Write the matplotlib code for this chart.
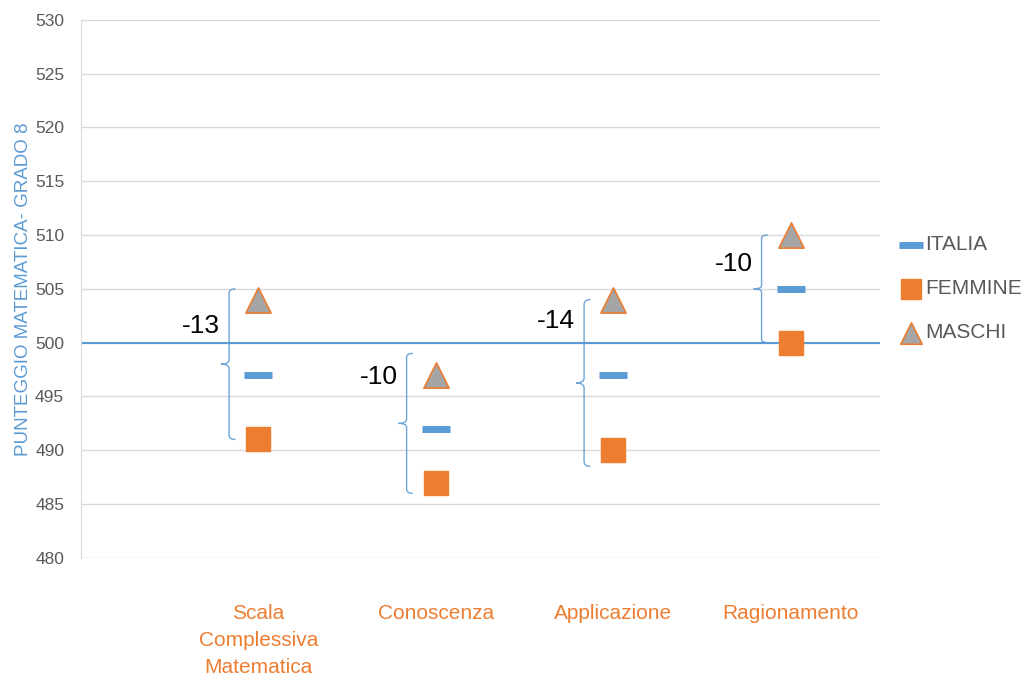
import matplotlib
matplotlib.use("Agg")
import matplotlib.pyplot as plt
from matplotlib.path import Path
from matplotlib.patches import PathPatch

plt.rcParams['font.family'] = ['Liberation Sans', 'DejaVu Sans']

# data
categories = ['Scala\nComplessiva\nMatematica', 'Conoscenza', 'Applicazione', 'Ragionamento']
italia = [497, 492, 497, 505]
femmine = [491, 487, 490, 500]
maschi = [504, 497, 504, 510]
gaps = ['-13', '-10', '-14', '-10']
# brace extents (top, bottom) and label heights
brace_top = [505, 499, 504, 510]
brace_bot = [491, 486, 488.5, 500]
label_y = [501.5, 496.8, 502, 507.3]

blue = '#5b9bd5'
orange = '#ed7d31'
grey = '#a5a5a5'
txt = '#595959'


def brace(ax, x, y0, y1, depth=0.045, hook=0.035):
    # curly brace opening to the right, tip pointing left at the middle
    ym = (y0 + y1) / 2
    h = (y1 - y0)
    c = h * 0.03
    verts = [(x + hook, y1), (x, y1), (x, y1 - c),
             (x, ym + c), (x, ym), (x - depth, ym),
             (x, ym), (x, ym - c),
             (x, y0 + c), (x, y0), (x + hook, y0)]
    codes = [Path.MOVETO, Path.CURVE3, Path.CURVE3,
             Path.LINETO, Path.CURVE3, Path.CURVE3,
             Path.CURVE3, Path.CURVE3,
             Path.LINETO, Path.CURVE3, Path.CURVE3]
    ax.add_patch(PathPatch(Path(verts, codes), fill=False, edgecolor=blue,
                           lw=1.0, alpha=0.9, zorder=3))


fig = plt.figure(figsize=(10.24, 6.82), dpi=100)
ax = fig.add_axes([0.079, 0.182, 0.78, 0.789])

pos = [1, 2, 3, 4]
ax.axhline(500, color=blue, lw=1.5, zorder=2)
ax.scatter(pos, italia, marker='_', s=420, linewidths=5, color=blue, zorder=4, label='ITALIA')
ax.scatter(pos, femmine, marker='s', s=300, color=orange, zorder=4, label='FEMMINE')
ax.scatter(pos, maschi, marker='^', s=330, color=grey, edgecolors=orange, linewidths=1.2,
           zorder=4, label='MASCHI')

for i, p in enumerate(pos):
    bx = p - 0.165
    brace(ax, bx, brace_bot[i], brace_top[i])
    ax.text(bx - 0.05, label_y[i], gaps[i], fontsize=19, ha='right', va='center', color='black')

ax.set_xlim(0, 4.5)
ax.set_ylim(480, 530)
ax.set_yticks(range(480, 531, 5))
ax.set_xticks(pos)
ax.set_xticklabels(categories, color=orange, fontsize=15, va='top', linespacing=1.55)
ax.tick_params(axis='x', length=0, pad=33)
ax.tick_params(axis='y', length=0, labelsize=12.5, labelcolor=txt, pad=12)
ax.grid(axis='y', color='#d9d9d9', lw=1)
ax.set_axisbelow(True)
for s in ['top', 'right', 'bottom']:
    ax.spines[s].set_visible(False)
ax.spines['left'].set_color('#d9d9d9')
ax.set_ylabel('PUNTEGGIO MATEMATICA- GRADO 8', color=blue, fontsize=13.5, labelpad=2)

leg = ax.legend(loc='center left', bbox_to_anchor=(1.0, 0.5), frameon=False,
                fontsize=15, labelspacing=1.2, handletextpad=0.2, markerscale=0.85,
                handlelength=1.0, borderaxespad=0.6)
for t in leg.get_texts():
    t.set_color(txt)

fig.savefig('out.png', dpi=100)
